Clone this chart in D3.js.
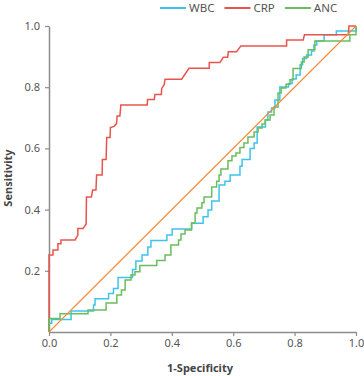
<!DOCTYPE html>
<html><head><meta charset="utf-8">
<script src="https://cdn.jsdelivr.net/npm/d3@7"></script>
<style>
html,body{margin:0;padding:0;background:#fff;}
svg{display:block;font-family:"Noto Sans",sans-serif;}
</style></head><body>
<svg id="chart" width="364" height="376"></svg>
<script>
const categories = ["WBC", "CRP", "ANC"];
const seriesColors = ["#3ec4ea", "#e8544c", "#6abd5c"];
const refColor = "#f28a3c";
const xTicks = [0, 0.2, 0.4, 0.6, 0.8, 1.0];
const yTicks = [0.2, 0.4, 0.6, 0.8, 1.0];
const xTitle = "1-Specificity";
const yTitle = "Sensitivity";

// WBC (step vertices: top of each rise)
const wbcFpr = [0, 0, 0.009, 0.072, 0.145, 0.150, 0.194, 0.210, 0.225, 0.272, 0.283, 0.303, 0.322, 0.332, 0.384, 0.401, 0.465, 0.502, 0.518, 0.530, 0.554, 0.573, 0.590, 0.622, 0.629, 0.655, 0.668, 0.678, 0.705, 0.713, 0.725, 0.736, 0.752, 0.780, 0.792, 0.805, 0.818, 0.826, 0.839, 0.855, 0.863, 0.872, 0.896, 0.936, 1];
const wbcTpr = [0, 0.029, 0.041, 0.069, 0.088, 0.109, 0.126, 0.142, 0.178, 0.204, 0.232, 0.252, 0.278, 0.299, 0.317, 0.337, 0.355, 0.377, 0.399, 0.428, 0.480, 0.493, 0.513, 0.542, 0.564, 0.600, 0.618, 0.670, 0.693, 0.719, 0.732, 0.758, 0.801, 0.812, 0.827, 0.840, 0.873, 0.894, 0.905, 0.918, 0.938, 0.951, 0.971, 0.984, 1];

// CRP (corner points)
const crpFpr = [0, 0, 0.013, 0.013, 0.029, 0.029, 0.039, 0.039, 0.085, 0.094, 0.094, 0.111, 0.121, 0.122, 0.138, 0.142, 0.153, 0.155, 0.173, 0.174, 0.186, 0.188, 0.199, 0.200, 0.212, 0.220, 0.222, 0.231, 0.234, 0.320, 0.321, 0.343, 0.345, 0.366, 0.367, 0.375, 0.378, 0.432, 0.456, 0.522, 0.522, 0.557, 0.568, 0.582, 0.584, 0.611, 0.625, 0.774, 0.774, 0.828, 0.832, 0.975, 0.977, 1];
const crpTpr = [0, 0.252, 0.252, 0.268, 0.268, 0.288, 0.288, 0.301, 0.301, 0.317, 0.338, 0.338, 0.353, 0.441, 0.441, 0.464, 0.464, 0.513, 0.513, 0.564, 0.564, 0.636, 0.636, 0.668, 0.672, 0.681, 0.706, 0.706, 0.742, 0.742, 0.760, 0.760, 0.776, 0.776, 0.796, 0.807, 0.826, 0.826, 0.862, 0.862, 0.881, 0.881, 0.898, 0.898, 0.916, 0.916, 0.935, 0.935, 0.954, 0.954, 0.971, 0.971, 1, 1];

// ANC (step vertices: top of each rise)
const ancFpr = [0, 0, 0.036, 0.127, 0.186, 0.221, 0.236, 0.248, 0.267, 0.280, 0.296, 0.351, 0.378, 0.397, 0.422, 0.430, 0.443, 0.464, 0.476, 0.482, 0.498, 0.505, 0.530, 0.546, 0.554, 0.560, 0.583, 0.596, 0.609, 0.622, 0.635, 0.648, 0.668, 0.681, 0.694, 0.704, 0.720, 0.733, 0.746, 0.756, 0.772, 0.785, 0.795, 0.822, 0.831, 0.844, 0.866, 0.980, 1];
const ancTpr = [0, 0.044, 0.060, 0.072, 0.095, 0.121, 0.137, 0.170, 0.186, 0.197, 0.217, 0.234, 0.252, 0.284, 0.301, 0.320, 0.333, 0.356, 0.389, 0.405, 0.422, 0.441, 0.474, 0.493, 0.513, 0.533, 0.560, 0.575, 0.585, 0.603, 0.618, 0.637, 0.654, 0.667, 0.680, 0.693, 0.709, 0.735, 0.781, 0.797, 0.810, 0.824, 0.861, 0.882, 0.899, 0.922, 0.951, 0.971, 1];

const refFpr = [0, 1];
const refTpr = [0, 1];

const svg = d3.select("#chart");
const x = d3.scaleLinear().domain([0, 1]).range([49, 356]);
const y = d3.scaleLinear().domain([0, 1]).range([332, 26]);
const axisColor = "#8c8c8c";
const textColor = "#555";

const gx = svg.append("g").attr("transform", `translate(0,${y(0)})`)
  .call(d3.axisBottom(x).tickValues(xTicks).tickFormat(d3.format(".1f")).tickSize(4).tickSizeOuter(0).tickPadding(3));
const gy = svg.append("g").attr("transform", `translate(${x(0)},0)`)
  .call(d3.axisLeft(y).tickValues(yTicks).tickFormat(d3.format(".1f")).tickSize(4).tickSizeOuter(0).tickPadding(5));
[gx, gy].forEach(g => {
  g.select(".domain").attr("stroke", axisColor).attr("stroke-width", 1.5);
  g.selectAll(".tick line").attr("stroke", axisColor).attr("stroke-width", 1.2);
  g.selectAll(".tick text").attr("fill", textColor).style("font-size", "11px").style("font-family", "'Noto Sans', sans-serif");
});

const zip = (a, b) => a.map((v, i) => [v, b[i]]);
const stepLine = d3.line().x(d => x(d[0])).y(d => y(d[1])).curve(d3.curveStepAfter);
const linLine = d3.line().x(d => x(d[0])).y(d => y(d[1]));

const series = [
  {name: "WBC", pts: zip(wbcFpr, wbcTpr), gen: stepLine, color: seriesColors[0]},
  {name: "CRP", pts: zip(crpFpr, crpTpr), gen: linLine, color: seriesColors[1]},
  {name: "ANC", pts: zip(ancFpr, ancTpr), gen: stepLine, color: seriesColors[2]}
];

svg.append("g").selectAll("path").data(series).join("path")
  .attr("d", d => d.gen(d.pts))
  .attr("fill", "none")
  .attr("stroke", d => d.color)
  .attr("stroke-width", 1.5)
  .attr("stroke-linejoin", "miter");

svg.append("path")
  .attr("d", linLine(zip(refFpr, refTpr)))
  .attr("fill", "none").attr("stroke", refColor).attr("stroke-width", 1.1);

// legend
const leg = svg.append("g");
let lx = 160;
categories.forEach((c, i) => {
  leg.append("line").attr("x1", lx).attr("x2", lx + 26).attr("y1", 8).attr("y2", 8)
    .attr("stroke", seriesColors[i]).attr("stroke-width", 2);
  const t = leg.append("text").attr("x", lx + 29).attr("y", 8).attr("dy", "0.35em")
    .attr("fill", textColor).style("font-size", "11.5px").text(c);
  lx += 29 + t.node().getComputedTextLength() + 10;
});

// axis titles
svg.append("text").attr("x", 200).attr("y", 372).attr("text-anchor", "middle")
  .attr("fill", "#444").style("font-size", "11px").style("font-weight", "bold").text(xTitle);
svg.append("text").attr("transform", "translate(12,178) rotate(-90)").attr("text-anchor", "middle")
  .attr("fill", "#444").style("font-size", "11px").style("font-weight", "bold").text(yTitle);
</script>
</body></html>
